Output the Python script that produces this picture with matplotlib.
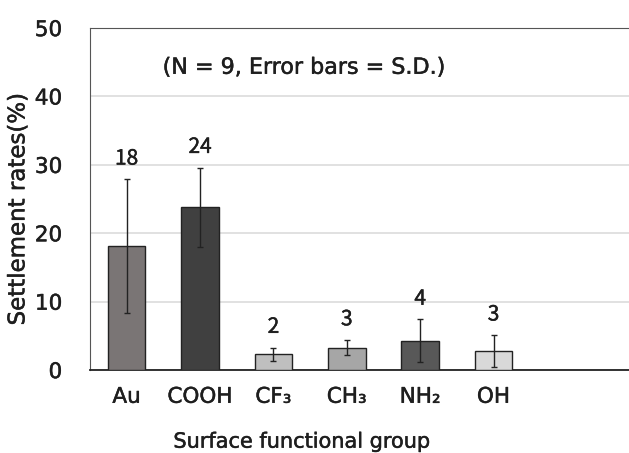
import matplotlib.pyplot as plt
import matplotlib.patheffects as pe
import numpy as np

plt.rcParams['font.family'] = ['DejaVu Sans']

# data
groups = ['Au', 'COOH', 'CF₃', 'CH₃', 'NH₂', 'OH']
means = [18.1, 23.8, 2.3, 3.3, 4.3, 2.8]
sds = [9.8, 5.8, 1.0, 1.1, 3.1, 2.3]
labels = ['18', '24', '2', '3', '4', '3']
colors = ['#7a7575', '#404040', '#bfbfbf', '#a6a6a6', '#585858', '#d9d9d9']

txt = '#1e1e1e'
thick = [pe.withStroke(linewidth=0.35, foreground=txt)]

fig = plt.figure(figsize=(6.29, 4.53), dpi=100)
ax = fig.add_axes([0.143, 0.183, 0.875, 0.755])

x = np.arange(len(groups))
ax.bar(x, means, width=0.51, color=colors, edgecolor='#222222', linewidth=1.0, zorder=3)
ax.errorbar(x, means, yerr=sds, fmt='none', ecolor='#222222', elinewidth=1.0,
            capsize=2.5, capthick=1.0, zorder=4)

for xi, m, s, lab in zip(x, means, sds, labels):
    ax.annotate(lab, (xi, m + s), xytext=(0, 7), textcoords='offset points',
                ha='center', va='bottom', fontsize=15, color=txt,
                family='Noto Sans CJK JP', path_effects=thick)

ax.text(2.42, 44.2, '(N = 9, Error bars = S.D.)', ha='center', va='center',
        fontsize=16, color=txt, path_effects=thick)

ax.set_xlim(-0.5, 7.0)
ax.set_ylim(0, 50)
ax.set_yticks([0, 10, 20, 30, 40, 50])
ax.set_xticks(x)
ax.set_xticklabels(groups)
ax.tick_params(axis='y', length=0, pad=20, labelsize=15.5, colors=txt)
ax.tick_params(axis='x', length=0, pad=12, labelsize=15.5, colors=txt)
for t in ax.get_xticklabels() + ax.get_yticklabels():
    t.set_path_effects(thick)
ax.yaxis.grid(True, color='#dcdcdc', linewidth=1.2, zorder=0)
ax.set_axisbelow(True)

ax.spines['left'].set_color('#555555')
ax.spines['top'].set_color('#555555')
ax.spines['bottom'].set_color('#222222')
ax.spines['bottom'].set_linewidth(1.3)

ax.set_ylabel('Settlement rates(%)', fontsize=16.5, color=txt, path_effects=thick)
ax.yaxis.set_label_coords(-0.11, 0.47)
ax.set_xlabel('Surface functional group', fontsize=15, color=txt, path_effects=thick)
ax.xaxis.set_label_coords(0.385, -0.18)

fig.savefig('out.png', dpi=100)
